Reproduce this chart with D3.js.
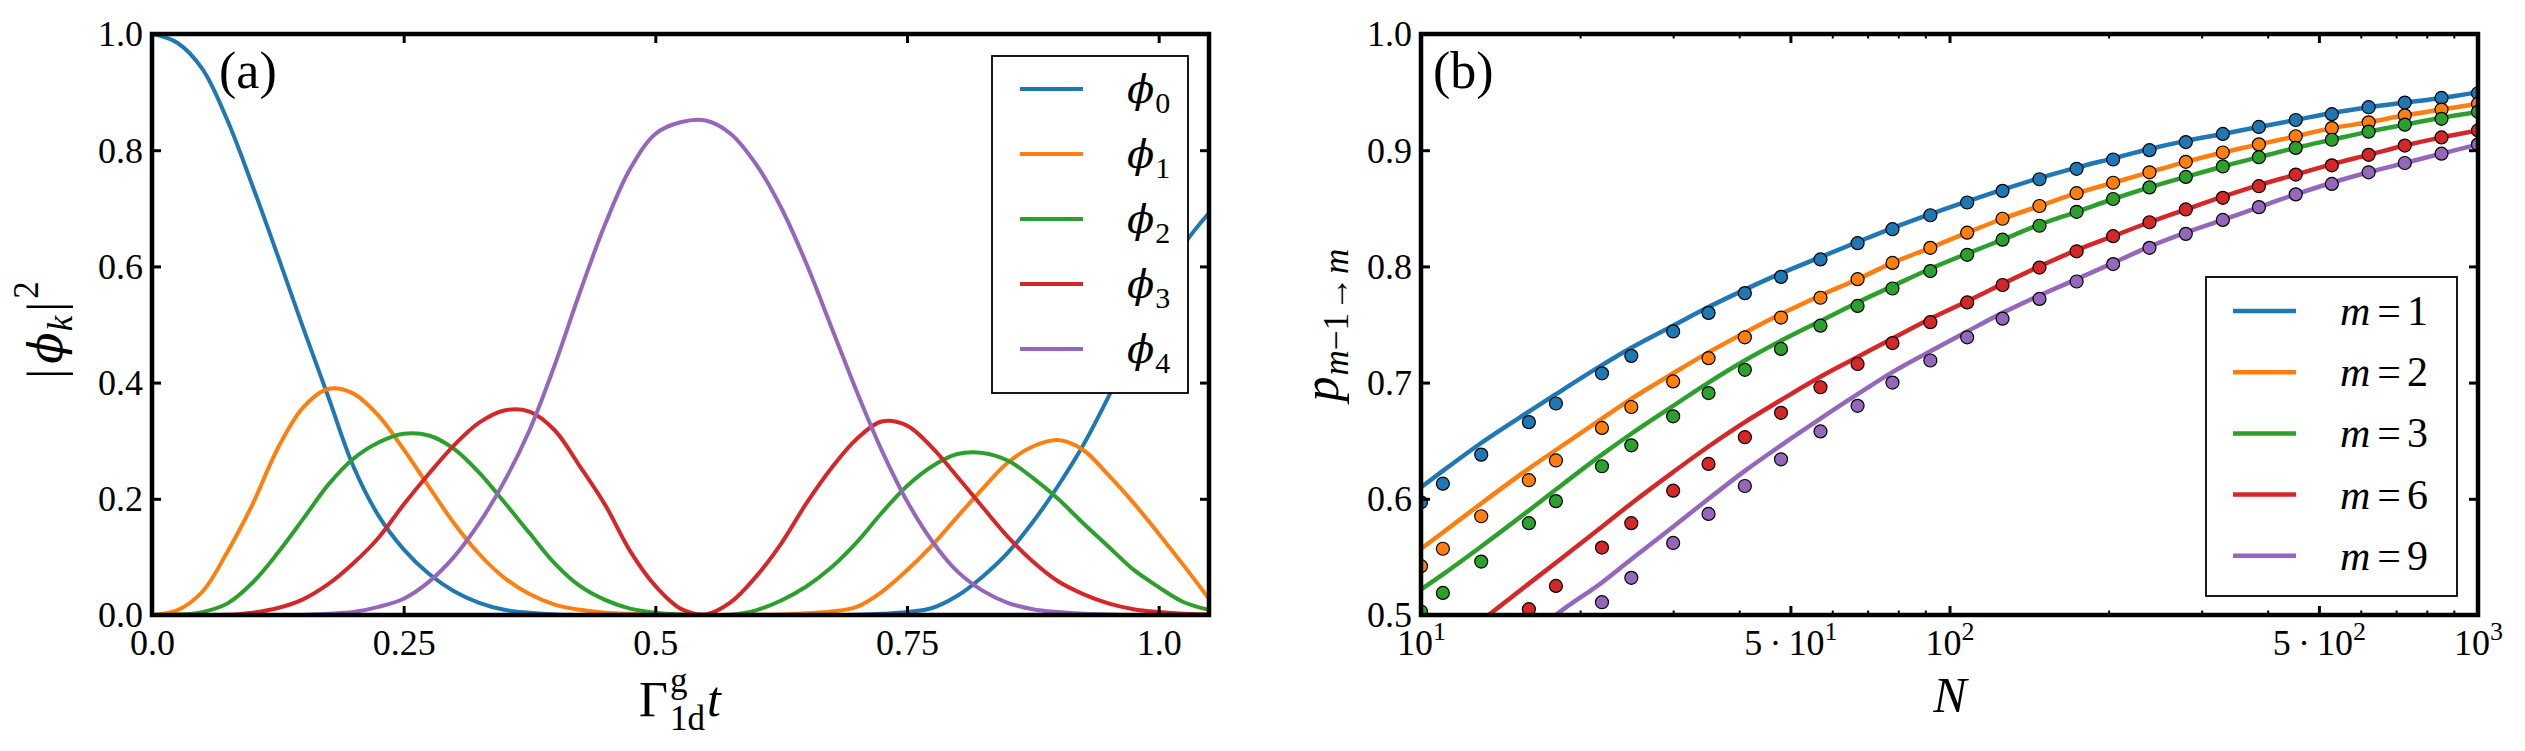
<!DOCTYPE html>
<html><head><meta charset="utf-8">
<script src="https://cdn.jsdelivr.net/npm/d3@7"></script>
<style>
html,body{margin:0;padding:0;background:#fff;}
svg{display:block;}
text{font-family:"Liberation Serif","Times New Roman",serif;fill:#000;}
text.greek{font-family:"DejaVu Serif","Liberation Serif",serif;}
</style></head><body>
<svg id="chart" width="2525" height="751"></svg>
<script>
// ---------------- Panel (a) data ----------------
const tValues = [0,0.025,0.05,0.075,0.1,0.125,0.15,0.175,0.2,0.225,0.25,0.275,0.3,0.325,0.35,0.375,0.4,0.425,0.45,0.475,0.5,0.525,0.55,0.575,0.6,0.625,0.65,0.675,0.7,0.725,0.75,0.775,0.8,0.825,0.85,0.875,0.9,0.925,0.95,0.975,1.0,1.025,1.05];
const phi0 = [1.000,0.985,0.940,0.851,0.738,0.618,0.495,0.376,0.256,0.171,0.113,0.071,0.041,0.021,0.009,0.004,0.001,0,0,0,0,0,0,0,0,0,0,0,0.0005,0.002,0.005,0.012,0.033,0.066,0.107,0.160,0.222,0.292,0.375,0.465,0.555,0.637,0.692];
const phi1 = [0,0.008,0.040,0.109,0.191,0.287,0.357,0.389,0.381,0.343,0.285,0.221,0.158,0.105,0.064,0.036,0.018,0.009,0.004,0.002,0.001,0,0,0,0.0005,0.001,0.003,0.006,0.014,0.040,0.077,0.120,0.169,0.217,0.262,0.290,0.301,0.284,0.241,0.193,0.140,0.085,0.028];
const phi2 = [0,0.0005,0.005,0.020,0.056,0.107,0.165,0.224,0.269,0.297,0.312,0.309,0.286,0.245,0.194,0.141,0.089,0.050,0.026,0.011,0.004,0.001,0,0.0005,0.008,0.025,0.049,0.082,0.125,0.176,0.222,0.256,0.277,0.279,0.266,0.236,0.200,0.158,0.118,0.078,0.048,0.022,0.009];
const phi3 = [0,0,0,0.0005,0.004,0.012,0.027,0.053,0.089,0.133,0.190,0.243,0.292,0.331,0.352,0.350,0.318,0.256,0.190,0.110,0.050,0.011,0.001,0.022,0.066,0.123,0.192,0.253,0.303,0.333,0.326,0.288,0.238,0.186,0.135,0.092,0.058,0.036,0.020,0.010,0.005,0.002,0.001];
const phi4 = [0,0,0,0,0,0,0,0.002,0.005,0.014,0.028,0.057,0.100,0.158,0.230,0.318,0.430,0.555,0.672,0.768,0.828,0.848,0.851,0.828,0.776,0.701,0.605,0.495,0.385,0.283,0.196,0.127,0.075,0.042,0.021,0.010,0.005,0.002,0.001,0,0,0,0];
const phiNames = ["0","1","2","3","4"];
const xTicksA = [0,0.25,0.5,0.75,1.0];
const xTickLabelsA = ["0.0","0.25","0.5","0.75","1.0"];
const yTicksA = [0,0.2,0.4,0.6,0.8,1.0];
const yTickLabelsA = ["0.0","0.2","0.4","0.6","0.8","1.0"];

// ---------------- Panel (b) data ----------------
const nValues = [10,11,13,16,18,22,25,30,35,41,48,57,67,78,92,108,126,148,174,204,239,280,329,385,452,529,621,727,853,1000];
const m1Pts = [0.597,0.613,0.638,0.666,0.682,0.708,0.723,0.744,0.760,0.777,0.791,0.806,0.820,0.832,0.844,0.855,0.865,0.875,0.884,0.892,0.900,0.907,0.914,0.920,0.926,0.931,0.937,0.941,0.945,0.949];
const m2Pts = [0.542,0.557,0.585,0.616,0.633,0.661,0.679,0.701,0.721,0.739,0.756,0.773,0.789,0.803,0.816,0.829,0.841,0.852,0.863,0.872,0.881,0.890,0.898,0.905,0.912,0.919,0.924,0.930,0.935,0.940];
const m3Pts = [0.503,0.519,0.546,0.579,0.598,0.628,0.646,0.671,0.691,0.711,0.729,0.749,0.766,0.781,0.796,0.810,0.823,0.835,0.847,0.858,0.868,0.877,0.886,0.894,0.902,0.909,0.916,0.922,0.927,0.933];
const m6Pts = [null,null,null,0.505,0.525,0.558,0.579,0.607,0.630,0.653,0.674,0.696,0.716,0.734,0.752,0.769,0.784,0.799,0.813,0.826,0.838,0.849,0.859,0.869,0.879,0.887,0.896,0.904,0.911,0.917];
const m9Pts = [null,null,null,null,null,0.511,0.532,0.562,0.587,0.611,0.634,0.658,0.680,0.700,0.719,0.739,0.755,0.772,0.787,0.802,0.816,0.828,0.840,0.851,0.862,0.871,0.881,0.889,0.897,0.905];
const m1Line = [0.610,0.624,0.648,0.675,0.690,0.715,0.730,0.749,0.765,0.780,0.794,0.808,0.821,0.833,0.845,0.856,0.866,0.876,0.885,0.893,0.901,0.908,0.914,0.920,0.926,0.932,0.937,0.941,0.945,0.950];
const m2Line = [0.557,0.571,0.596,0.626,0.642,0.669,0.686,0.708,0.726,0.743,0.759,0.775,0.789,0.803,0.816,0.829,0.841,0.852,0.863,0.872,0.881,0.890,0.898,0.905,0.912,0.919,0.924,0.930,0.935,0.940];
const m3Line = [0.522,0.535,0.559,0.590,0.608,0.638,0.656,0.680,0.700,0.719,0.736,0.753,0.769,0.783,0.798,0.811,0.823,0.836,0.847,0.858,0.868,0.877,0.886,0.894,0.902,0.909,0.916,0.922,0.928,0.933];
const m6Line = [null,null,0.495,0.527,0.545,0.576,0.596,0.623,0.645,0.666,0.685,0.705,0.722,0.738,0.755,0.770,0.785,0.800,0.814,0.826,0.838,0.849,0.860,0.870,0.879,0.888,0.896,0.904,0.911,0.917];
const m9Line = [null,null,null,0.480,0.500,0.528,0.548,0.576,0.600,0.624,0.646,0.669,0.690,0.709,0.727,0.744,0.760,0.775,0.789,0.803,0.817,0.829,0.840,0.851,0.862,0.872,0.881,0.889,0.897,0.905];
const mNames = ["1","2","3","6","9"];
const xTicksB = [10,50,100,500,1000];
const xTickMantB = ["10","5\u2009\u00b7\u200910","10","5\u2009\u00b7\u200910","10"];
const xTickExpB = ["1","1","2","2","3"];
const xMinorB = [20,30,40,60,70,80,90,200,300,400,600,700,800,900];
const yTicksB = [0.5,0.6,0.7,0.8,0.9,1.0];
const yTickLabelsB = ["0.5","0.6","0.7","0.8","0.9","1.0"];

const colors = ["#1f77b4","#ff7f0e","#2ca02c","#d62728","#9467bd"];

// ---------------- helpers ----------------
const svg = d3.select("#chart");
const FONT = '"Liberation Serif","Times New Roman",serif';

function richText(parent, parts, anchor) {
  const g = parent.append("g");
  let cursor = 0, lastStart = 0;
  parts.forEach(p => {
    const start = p.stack ? lastStart : cursor + (p.dx || 0);
    const t = g.append("text")
      .attr("x", start).attr("y", p.shift || 0)
      .attr("font-size", p.size)
      .attr("font-style", p.italic ? "italic" : "normal")
      .attr("class", p.greek ? "greek" : null)
      .text(p.text);
    const w = t.node().getComputedTextLength();
    if (!p.stack) lastStart = start;
    cursor = Math.max(cursor, start + w);
  });
  if (anchor === "middle") {
    g.selectAll("text").attr("x", function(){ return +this.getAttribute("x") - cursor/2; });
  }
  return g;
}

function styleAxis(sel) {
  sel.attr("font-family", FONT).attr("font-size", 36).attr("fill", null);
  sel.select(".domain").remove();
  sel.selectAll(".tick line").attr("stroke", "#000").attr("stroke-width", 3);
  sel.selectAll(".tick text").attr("fill", "#000");
}

function panelFrame(p, id) {
  svg.append("clipPath").attr("id", id).append("rect")
    .attr("x", p.left).attr("y", p.top)
    .attr("width", p.right - p.left).attr("height", p.bottom - p.top);
}

// ---------------- Panel (a) ----------------
const pa = {left:152, right:1209, top:34, bottom:615};
const xA = d3.scaleLinear().domain([0,1.05]).range([pa.left, pa.right]);
const yA = d3.scaleLinear().domain([0,1]).range([pa.bottom, pa.top]);
panelFrame(pa, "clipA");

const phiSeries = [phi0, phi1, phi2, phi3, phi4];
const lineA = d3.line().x((d,i) => xA(tValues[i])).y(d => yA(d)).curve(d3.curveCatmullRom.alpha(0.5));
const gA = svg.append("g").attr("clip-path", "url(#clipA)");
phiSeries.forEach((s,i) => {
  gA.append("path").attr("d", lineA(s)).attr("fill","none")
    .attr("stroke", colors[i]).attr("stroke-width", 4).attr("stroke-linejoin","round");
});

// axes (a)
{
  const bot = svg.append("g").attr("transform", `translate(0,${pa.bottom})`)
    .call(d3.axisBottom(xA).tickValues(xTicksA).tickSize(-9).tickFormat((d,i) => xTickLabelsA[i]));
  styleAxis(bot);
  bot.selectAll(".tick text").attr("y", 40).attr("dy", null);
  const top = svg.append("g").attr("transform", `translate(0,${pa.top})`)
    .call(d3.axisTop(xA).tickValues(xTicksA).tickSize(-9).tickFormat(""));
  styleAxis(top);
  const left = svg.append("g").attr("transform", `translate(${pa.left},0)`)
    .call(d3.axisLeft(yA).tickValues(yTicksA).tickSize(-9).tickPadding(9).tickFormat((d,i) => yTickLabelsA[i]));
  styleAxis(left);
  left.selectAll(".tick text").attr("x", -9).attr("dy", "0.33em");
  const right = svg.append("g").attr("transform", `translate(${pa.right},0)`)
    .call(d3.axisRight(yA).tickValues(yTicksA).tickSize(-9).tickFormat(""));
  styleAxis(right);
}
svg.append("rect").attr("x", pa.left).attr("y", pa.top)
  .attr("width", pa.right - pa.left).attr("height", pa.bottom - pa.top)
  .attr("fill","none").attr("stroke","#000").attr("stroke-width", 4.5);

// legend (a)
{
  const lg = svg.append("g");
  lg.append("rect").attr("x", 992).attr("y", 56).attr("width", 196).attr("height", 337)
    .attr("fill", "#fff").attr("stroke", "#000").attr("stroke-width", 1.8);
  phiNames.forEach((nm,i) => {
    const yy = 89 + i*65;
    lg.append("line").attr("x1", 1020).attr("x2", 1083).attr("y1", yy).attr("y2", yy)
      .attr("stroke", colors[i]).attr("stroke-width", 4);
    const t = lg.append("g").attr("transform", `translate(1127,${yy+14})`);
    richText(t, [{text:"\u03d5", size:40, italic:true, greek:true}, {text:nm, size:30, shift:10, dx:1}], "start");
  });
}

// labels (a)
svg.append("text").attr("x", 219).attr("y", 88).attr("font-size", 52).text("(a)");
richText(svg.append("g").attr("transform", "translate(680,716)"), [
  {text:"\u0393", size:50},
  {text:"g", size:35, shift:-24, dx:2},
  {text:"1d", size:35, shift:14, stack:true},
  {text:"t", size:50, italic:true, dx:2}
], "middle");
richText(svg.append("g").attr("transform", "translate(62,330) rotate(-90)"), [
  {text:"|", size:50},
  {text:"\u03d5", size:46, italic:true, greek:true, dx:5},
  {text:"k", size:35, italic:true, shift:10, dx:1},
  {text:"|", size:50, dx:4},
  {text:"2", size:35, shift:-24, dx:3}
], "middle");

// ---------------- Panel (b) ----------------
const pb = {left:1421, right:2478, top:34, bottom:615};
const xB = d3.scaleLog().domain([10,1000]).range([pb.left, pb.right]);
const yB = d3.scaleLinear().domain([0.5,1]).range([pb.bottom, pb.top]);
panelFrame(pb, "clipB");

const lineSeries = [m1Line, m2Line, m3Line, m6Line, m9Line];
const ptSeries = [m1Pts, m2Pts, m3Pts, m6Pts, m9Pts];
const lineB = d3.line().defined(d => d != null)
  .x((d,i) => xB(nValues[i])).y(d => yB(d)).curve(d3.curveMonotoneX);
const gB = svg.append("g").attr("clip-path", "url(#clipB)");
lineSeries.forEach((s,i) => {
  gB.append("path").attr("d", lineB(s)).attr("fill","none")
    .attr("stroke", colors[i]).attr("stroke-width", 4.5).attr("stroke-linejoin","round");
});
ptSeries.forEach((s,i) => {
  gB.append("g").selectAll("circle")
    .data(s.map((v,j) => ({n:nValues[j], v})).filter(d => d.v != null))
    .join("circle")
    .attr("cx", d => xB(d.n)).attr("cy", d => yB(d.v)).attr("r", 6.5)
    .attr("fill", colors[i]).attr("stroke", "#000").attr("stroke-width", 1.2);
});

// axes (b)
{
  const bot = svg.append("g").attr("transform", `translate(0,${pb.bottom})`)
    .call(d3.axisBottom(xB).tickValues(xTicksB).tickSize(-9).tickFormat(""));
  styleAxis(bot);
  bot.selectAll(".tick").each(function(d,i){
    const t = d3.select(this).select("text").attr("y", 40).attr("dy", null).text(null);
    t.append("tspan").text(xTickMantB[i]);
    t.append("tspan").attr("dy", -15).attr("font-size", 26).text(xTickExpB[i]);
  });
  const botMinor = svg.append("g").attr("transform", `translate(0,${pb.bottom})`)
    .call(d3.axisBottom(xB).tickValues(xMinorB).tickSize(-4.5).tickFormat(""));
  styleAxis(botMinor);
  botMinor.selectAll(".tick line").attr("stroke-width", 2);
  const top = svg.append("g").attr("transform", `translate(0,${pb.top})`)
    .call(d3.axisTop(xB).tickValues(xTicksB).tickSize(-9).tickFormat(""));
  styleAxis(top);
  const topMinor = svg.append("g").attr("transform", `translate(0,${pb.top})`)
    .call(d3.axisTop(xB).tickValues(xMinorB).tickSize(-4.5).tickFormat(""));
  styleAxis(topMinor);
  topMinor.selectAll(".tick line").attr("stroke-width", 2);
  const left = svg.append("g").attr("transform", `translate(${pb.left},0)`)
    .call(d3.axisLeft(yB).tickValues(yTicksB).tickSize(-9).tickPadding(9).tickFormat((d,i) => yTickLabelsB[i]));
  styleAxis(left);
  left.selectAll(".tick text").attr("x", -9).attr("dy", "0.33em");
  const right = svg.append("g").attr("transform", `translate(${pb.right},0)`)
    .call(d3.axisRight(yB).tickValues(yTicksB).tickSize(-9).tickFormat(""));
  styleAxis(right);
}
svg.append("rect").attr("x", pb.left).attr("y", pb.top)
  .attr("width", pb.right - pb.left).attr("height", pb.bottom - pb.top)
  .attr("fill","none").attr("stroke","#000").attr("stroke-width", 4.5);

// legend (b)
{
  const lg = svg.append("g");
  lg.append("rect").attr("x", 2206).attr("y", 277).attr("width", 251).attr("height", 319)
    .attr("fill", "#fff").attr("stroke", "#000").attr("stroke-width", 1.8);
  mNames.forEach((nm,i) => {
    const yy = 311 + i*61.2;
    lg.append("line").attr("x1", 2233).attr("x2", 2296).attr("y1", yy).attr("y2", yy)
      .attr("stroke", colors[i]).attr("stroke-width", 4.5);
    const t = lg.append("g").attr("transform", `translate(2340,${yy+14})`);
    richText(t, [{text:"m", size:42, italic:true}, {text:"=", size:42, dx:7}, {text:nm, size:42, dx:6}], "start");
  });
}

// labels (b)
svg.append("text").attr("x", 1433).attr("y", 88).attr("font-size", 52).text("(b)");
richText(svg.append("g").attr("transform", "translate(1950,712)"), [
  {text:"N", size:50, italic:true}
], "middle");
richText(svg.append("g").attr("transform", "translate(1338,325) rotate(-90)"), [
  {text:"p", size:50, italic:true},
  {text:"m", size:35, italic:true, shift:10, dx:1},
  {text:"\u2212", size:35, shift:10},
  {text:"1", size:35, shift:10},
  {text:"\u2192", size:35, shift:10, dx:2},
  {text:"m", size:35, italic:true, shift:10, dx:2}
], "middle");
</script>
</body></html>
